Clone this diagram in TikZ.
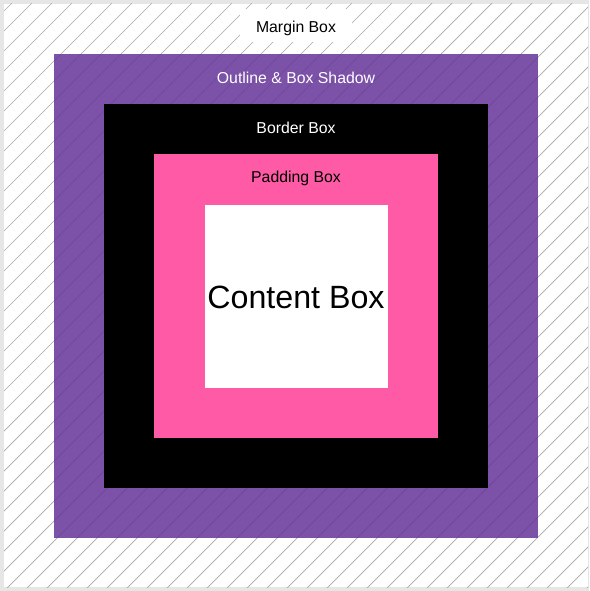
\documentclass[tikz,border=0pt]{standalone}
\usepackage{fontspec}
\setmainfont{Liberation Sans}
\definecolor{frame}{HTML}{E6E6E6}
\definecolor{hatch}{HTML}{A8A8A8}
\definecolor{rpurple}{HTML}{663399}
\definecolor{pinkbox}{HTML}{FF5AA5}
\tikzset{
  lbl/.style={inner sep=0pt, font=\fontsize{15.8}{19}\selectfont},
  areabox/.style={draw=none, inner sep=0pt, anchor=north west},
}
\begin{document}
\begin{tikzpicture}[x=1pt,y=-1pt]
\useasboundingbox (0,0) rectangle (589,591);
\fill[frame] (0,0) rectangle (589,591);
\fill[white] (4,4) rectangle (588,587);
% hatching
\begin{scope}
\clip (4,4) rectangle (588,587);
\foreach \c in {15,35,...,1175} {
  \draw[hatch, line width=0.7pt] (\c,0) -- ({\c-600},600);
}
\end{scope}
% boxes
\node[areabox, fill=rpurple, fill opacity=0.85, minimum width=484, minimum height=484] (outline) at (54,54) {};
\node[areabox, fill=black, minimum width=384, minimum height=384] (border) at (104,104) {};
\node[areabox, fill=pinkbox, minimum width=284, minimum height=284] (padding) at (154,154) {};
\node[areabox, fill=white, minimum width=183, minimum height=183] (content) at (205,205) {};
% labels
\node[fill=white, minimum width=112, minimum height=33, inner sep=0pt] (marginbg) at (296,25.5) {};
\node[lbl] (marginlbl) at (296,28) {Margin Box};
\node[lbl, text=white] (outlinelbl) at (296,78) {Outline \& Box Shadow};
\node[lbl, text=white] (borderlbl) at (296,128) {Border Box};
\node[lbl] (paddinglbl) at (296,178.5) {Padding Box};
\node[inner sep=0pt, font=\fontsize{32.2}{38}\selectfont] (contentlbl) at (296,297) {Content Box};
\end{tikzpicture}
\end{document}
